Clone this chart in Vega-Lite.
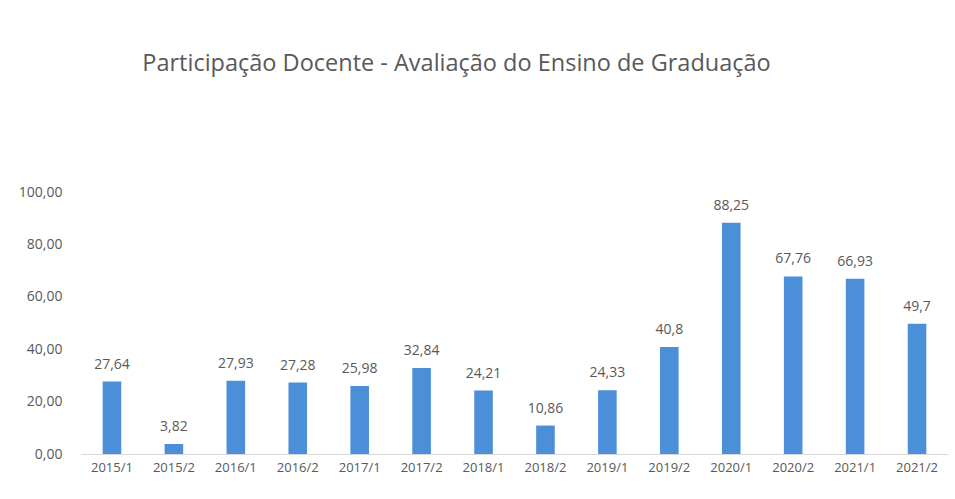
{
  "$schema": "https://vega.github.io/schema/vega-lite/v6.json",
  "autosize": "none",
  "width": 867,
  "height": 262,
  "padding": {"left": 81, "top": 192, "right": 7, "bottom": 45},
  "background": "white",
  "title": {
    "text": "Participação Docente - Avaliação do Ensino de Graduação",
    "anchor": "middle",
    "dx": -58,
    "offset": 110,
    "font": "Open Sans",
    "fontSize": 23.5,
    "fontWeight": "normal",
    "color": "#595959"
  },
  "data": {
    "values": [
      {"semestre": "2015/1", "valor": 27.64},
      {"semestre": "2015/2", "valor": 3.82},
      {"semestre": "2016/1", "valor": 27.93},
      {"semestre": "2016/2", "valor": 27.28},
      {"semestre": "2017/1", "valor": 25.98},
      {"semestre": "2017/2", "valor": 32.84},
      {"semestre": "2018/1", "valor": 24.21},
      {"semestre": "2018/2", "valor": 10.86},
      {"semestre": "2019/1", "valor": 24.33},
      {"semestre": "2019/2", "valor": 40.8},
      {"semestre": "2020/1", "valor": 88.25},
      {"semestre": "2020/2", "valor": 67.76},
      {"semestre": "2021/1", "valor": 66.93},
      {"semestre": "2021/2", "valor": 49.7}
    ]
  },
  "transform": [
    {"calculate": "replace(toString(datum.valor), '.', ',')", "as": "rotulo"}
  ],
  "encoding": {
    "x": {
      "field": "semestre",
      "type": "nominal",
      "sort": null,
      "scale": {"paddingInner": 0.7, "paddingOuter": 0.35},
      "axis": {
        "title": null,
        "labelAngle": 0,
        "ticks": false,
        "domainColor": "#d9d9d9",
        "labelPadding": 7,
        "labelFont": "Open Sans",
        "labelFontSize": 13,
        "labelColor": "#595959"
      }
    },
    "y": {
      "field": "valor",
      "type": "quantitative",
      "scale": {"domain": [0, 100]},
      "axis": {
        "title": null,
        "values": [0, 20, 40, 60, 80, 100],
        "labelExpr": "replace(format(datum.value, '.2f'), '.', ',')",
        "grid": false,
        "ticks": false,
        "domain": false,
        "labelPadding": 19,
        "labelFont": "Open Sans",
        "labelFontSize": 14,
        "labelColor": "#595959"
      }
    }
  },
  "layer": [
    {"mark": {"type": "bar", "color": "#4a8fd8"}},
    {
      "mark": {"type": "text", "baseline": "bottom", "dy": -10, "font": "Open Sans", "fontSize": 14, "color": "#595959"},
      "encoding": {"text": {"field": "rotulo"}}
    }
  ],
  "config": {"view": {"stroke": null}}
}
